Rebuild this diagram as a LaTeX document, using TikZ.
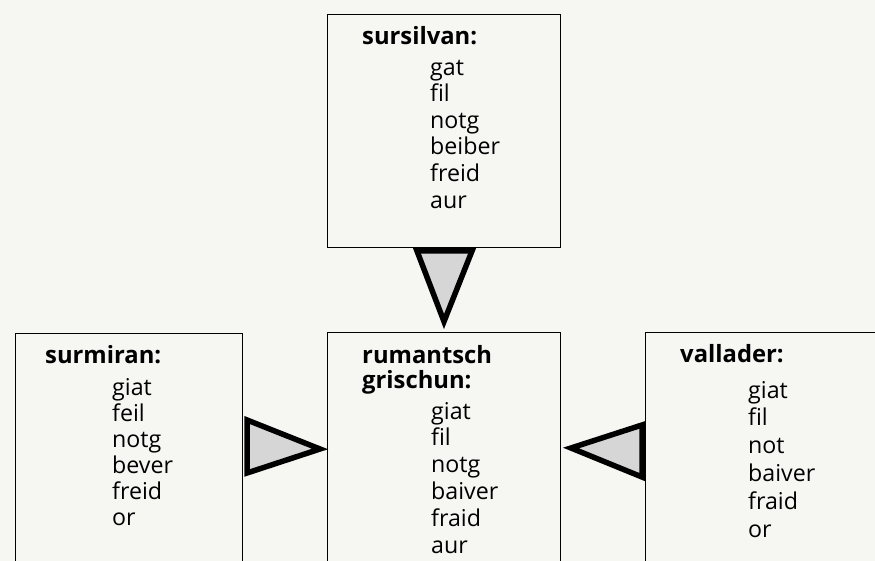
\documentclass[tikz,border=0pt]{standalone}
\usepackage{fontspec}
\setmainfont{Open Sans}[Ligatures=NoCommon]
\usetikzlibrary{calc}

\definecolor{paper}{RGB}{246,246,243}
\definecolor{wedgegray}{RGB}{214,214,214}

\begin{document}
\begin{tikzpicture}[x=1pt, y=-1pt,
    dialect/.style={draw, line width=1pt, anchor=north west, inner sep=0pt},
    title/.style={font=\fontsize{23.8}{25}\selectfont\bfseries, anchor=base west, inner sep=0pt},
    word/.style={font=\fontsize{23.2}{25}\selectfont, anchor=base west, inner sep=0pt},
    wedge/.style={draw, fill=wedgegray, line width=5.5pt}]
    % Paper
    \useasboundingbox (0,0) rectangle (875,561);
    \fill[paper] (0,0) rectangle (875,561);
    \clip (0,0) rectangle (875,561);

    % Boxes
    \node[dialect, minimum width=233pt, minimum height=233pt] (sursilvan) at (327,14) {};
    \node[dialect, minimum width=227pt, minimum height=250pt] (surmiran) at (15,333) {};
    \node[dialect, minimum width=233pt, minimum height=250pt] (rumantsch) at (327,332) {};
    \node[dialect, minimum width=250pt, minimum height=250pt] (vallader) at (645,332) {};

    % Titles
    \node[title] (sursilvan-title) at (362,45) {sursilvan:};
    \node[title] (surmiran-title) at (45,363) {surmiran:};
    \node[title] (rumantsch-title) at (362,363) {rumantsch};
    \node[title] (grischun-title) at (362,388) {grischun:};
    \node[title] (vallader-title) at (680,362) {vallader:};

    % Word lists
    \foreach \w [count=\i] in {gat,fil,notg,beiber,freid,aur}
        \node[word] (sursilvan-\i) at (430,{48.5+26.6*\i}) {\w};
    \foreach \w [count=\i] in {giat,feil,notg,bever,freid,or}
        \node[word] (surmiran-\i) at (112,{369+26*\i}) {\w};
    \foreach \w [count=\i] in {giat,fil,notg,baiver,fraid,aur}
        \node[word] (rumantsch-\i) at (431,{392.2+26.8*\i}) {\w};
    \foreach \w [count=\i] in {giat,fil,not,baiver,fraid,or}
        \node[word] (vallader-\i) at (748,{370.2+27.8*\i}) {\w};

    % Wedges
    \filldraw[wedge] ($(sursilvan.south)+(-27,3)$) -- ($(sursilvan.south)+(28,3)$)
        -- ($(rumantsch.north)+(0,-10.5)$) -- cycle;
    \filldraw[wedge] ($(surmiran.north east)+(4,87)$) -- ($(surmiran.north east)+(4,140)$)
        -- ($(rumantsch.north west)+(-7,117)$) -- cycle;
    \filldraw[wedge] ($(vallader.north west)+(-3,93)$) -- ($(vallader.north west)+(-3,145)$)
        -- ($(rumantsch.north east)+(10,116)$) -- cycle;
\end{tikzpicture}
\end{document}
